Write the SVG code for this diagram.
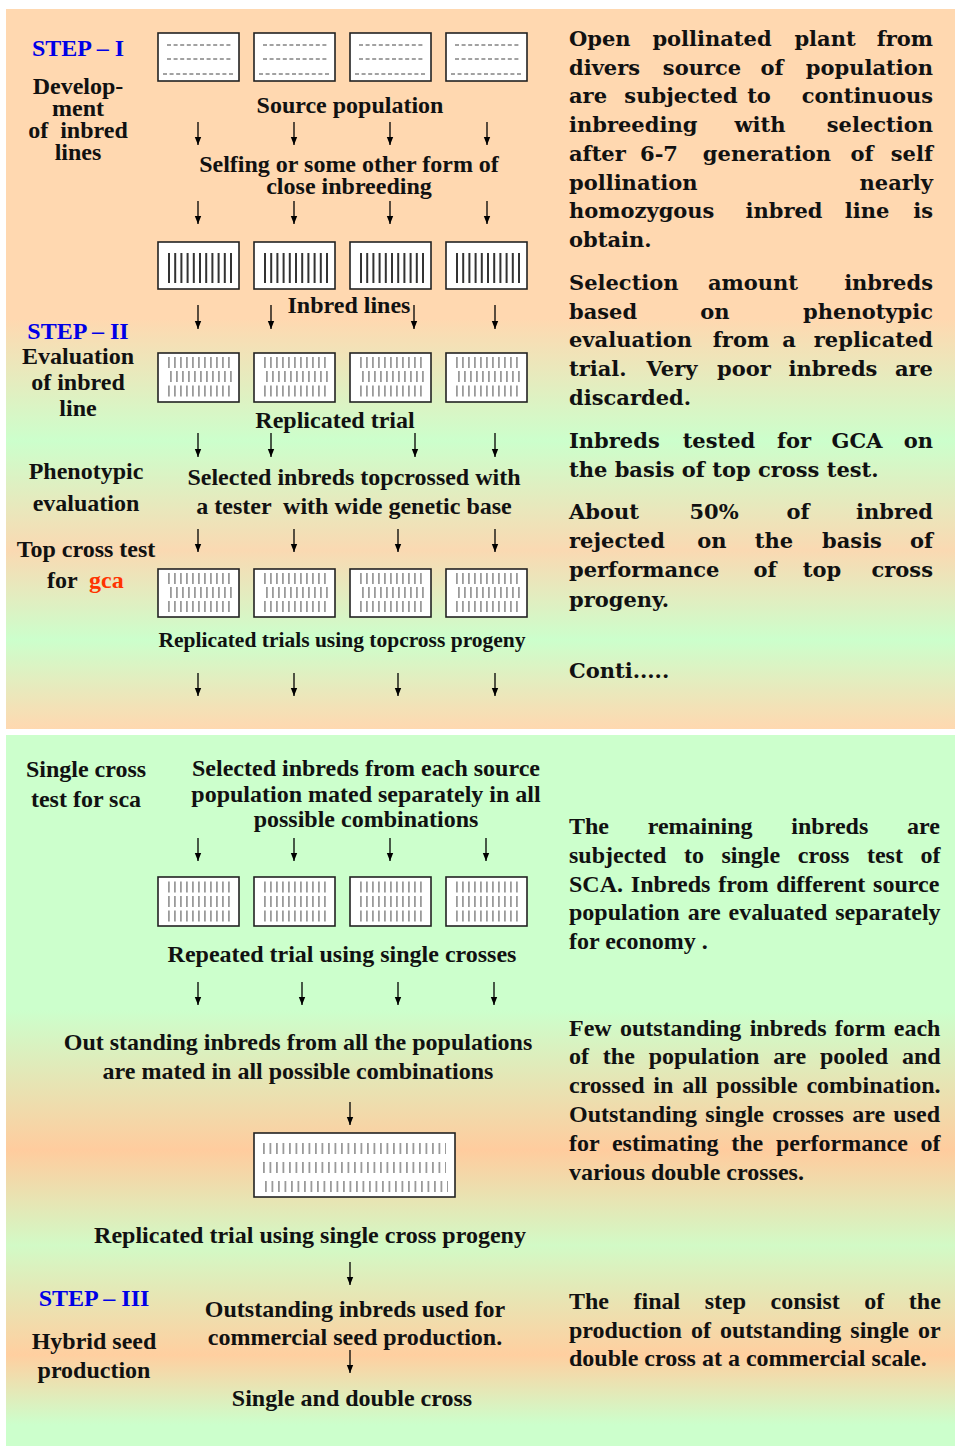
<svg xmlns="http://www.w3.org/2000/svg" width="955" height="1446" viewBox="0 0 955 1446">
<defs>
<linearGradient id="bgTop" gradientUnits="userSpaceOnUse" x1="0" y1="9" x2="0" y2="729">
<stop offset="0" stop-color="#FFD8B0"/>
<stop offset="0.43" stop-color="#FFD8B0"/>
<stop offset="0.6" stop-color="#CCFFCC"/>
<stop offset="0.752" stop-color="#FAD9B2"/>
<stop offset="0.876" stop-color="#CCFFCC"/>
<stop offset="1" stop-color="#FFD8B0"/>
</linearGradient>
<linearGradient id="bgBot" gradientUnits="userSpaceOnUse" x1="0" y1="735" x2="0" y2="1446">
<stop offset="0" stop-color="#CCFFCC"/>
<stop offset="0.387" stop-color="#CCFFCC"/>
<stop offset="0.584" stop-color="#FFCC9E"/>
<stop offset="0.718" stop-color="#D2FAC6"/>
<stop offset="0.872" stop-color="#FFCFA0"/>
<stop offset="0.97" stop-color="#CCFFCC"/>
<stop offset="1" stop-color="#CCFFCC"/>
</linearGradient>
<marker id="ah" viewBox="0 0 8 8" refX="8" refY="4" markerWidth="8" markerHeight="8" markerUnits="userSpaceOnUse" orient="auto">
<path d="M0,0.8 L8,4 L0,7.2 Z" fill="#000"/>
</marker>
<style>
.lbl{font-family:"Liberation Serif","Times New Roman",serif;font-weight:bold;font-size:24px;fill:#111;text-anchor:middle}
.step{fill:#0000E6}
.red{fill:#FF3300}
.st{text-anchor:start}
.para{font-family:"DejaVu Serif","Liberation Serif",serif;font-weight:bold;font-size:21px;fill:#111}
.pb{font-family:"Liberation Serif","Times New Roman",serif;font-weight:bold;font-size:24px;fill:#111}
.e{text-anchor:end}
.m{text-anchor:middle}
.box{fill:#fff;stroke:#222;stroke-width:1.6}
.dash{stroke:#444;stroke-width:1;stroke-dasharray:4 2.6;fill:none}
.solid{stroke:#333;stroke-width:30;stroke-dasharray:2 4.2;fill:none}
.bars{stroke:#9a9a9a;stroke-width:11;stroke-dasharray:1.8 4.2;fill:none}
.wbars{stroke:#9a9a9a;stroke-width:11;stroke-dasharray:1.8 4.7;fill:none}
.arr{stroke:#000;stroke-width:1.3;fill:none;marker-end:url(#ah)}
</style>
</defs>

<rect id="panel-top" x="6" y="9" width="949" height="720" fill="url(#bgTop)"/>
<rect id="panel-bottom" x="6" y="735" width="949" height="711" fill="url(#bgBot)"/>

<!-- STEP I labels -->
<g id="step1-label">
<text class="lbl step" x="78" y="56">STEP – I</text>
<text class="lbl" x="78" y="94">Develop-</text>
<text class="lbl" x="78" y="116">ment</text>
<text class="lbl" x="78" y="138" xml:space="preserve">of  inbred</text>
<text class="lbl" x="78" y="160">lines</text>
</g>

<g id="source-population">
<rect class="box" x="158" y="33" width="81" height="48"/>
<rect class="box" x="254" y="33" width="81" height="48"/>
<rect class="box" x="350" y="33" width="81" height="48"/>
<rect class="box" x="446" y="33" width="81" height="48"/>
<line class="dash" x1="167" x2="233" y1="45" y2="45"/><line class="dash" x1="167" x2="233" y1="59" y2="59"/><line class="dash" x1="163" x2="235" y1="74" y2="74"/>
<line class="dash" x1="263" x2="329" y1="45" y2="45"/><line class="dash" x1="263" x2="329" y1="59" y2="59"/><line class="dash" x1="259" x2="331" y1="74" y2="74"/>
<line class="dash" x1="359" x2="425" y1="45" y2="45"/><line class="dash" x1="359" x2="425" y1="59" y2="59"/><line class="dash" x1="355" x2="427" y1="74" y2="74"/>
<line class="dash" x1="455" x2="521" y1="45" y2="45"/><line class="dash" x1="455" x2="521" y1="59" y2="59"/><line class="dash" x1="451" x2="523" y1="74" y2="74"/>
<text class="lbl" x="350" y="113">Source population</text>
</g>

<g id="selfing">
<text class="lbl" x="349" y="172">Selfing or some other form of</text>
<text class="lbl" x="349" y="194">close inbreeding</text>
</g>

<g id="inbred-lines">
<rect class="box" x="158" y="242" width="81" height="47"/>
<rect class="box" x="254" y="242" width="81" height="47"/>
<rect class="box" x="350" y="242" width="81" height="47"/>
<rect class="box" x="446" y="242" width="81" height="47"/>
<line class="solid" x1="168" x2="233" y1="268" y2="268"/>
<line class="solid" x1="264" x2="329" y1="268" y2="268"/>
<line class="solid" x1="360" x2="425" y1="268" y2="268"/>
<line class="solid" x1="456" x2="521" y1="268" y2="268"/>
<text class="lbl" x="349" y="313">Inbred lines</text>
</g>

<g id="step2-label">
<text class="lbl step" x="78" y="339">STEP – II</text>
<text class="lbl" x="78" y="364">Evaluation</text>
<text class="lbl" x="78" y="390">of inbred</text>
<text class="lbl" x="78" y="416">line</text>
</g>

<g id="replicated-trial">
<rect class="box" x="158" y="353" width="81" height="49"/>
<rect class="box" x="254" y="353" width="81" height="49"/>
<rect class="box" x="350" y="353" width="81" height="49"/>
<rect class="box" x="446" y="353" width="81" height="49"/>
<line class="bars" x1="168" x2="231" y1="362.5" y2="362.5"/><line class="bars" x1="170" x2="233" y1="376.5" y2="376.5"/><line class="bars" x1="168" x2="233" y1="391" y2="391"/>
<line class="bars" x1="264" x2="327" y1="362.5" y2="362.5"/><line class="bars" x1="266" x2="329" y1="376.5" y2="376.5"/><line class="bars" x1="264" x2="329" y1="391" y2="391"/>
<line class="bars" x1="360" x2="423" y1="362.5" y2="362.5"/><line class="bars" x1="362" x2="425" y1="376.5" y2="376.5"/><line class="bars" x1="360" x2="425" y1="391" y2="391"/>
<line class="bars" x1="456" x2="519" y1="362.5" y2="362.5"/><line class="bars" x1="458" x2="521" y1="376.5" y2="376.5"/><line class="bars" x1="456" x2="521" y1="391" y2="391"/>
<text class="lbl" x="335" y="428">Replicated trial</text>
</g>

<g id="phenotypic-label">
<text class="lbl" x="86" y="479">Phenotypic</text>
<text class="lbl" x="86" y="511">evaluation</text>
</g>

<g id="topcrossed">
<text class="lbl" x="354" y="485">Selected inbreds topcrossed with</text>
<text class="lbl" x="354" y="514" xml:space="preserve">a tester  with wide genetic base</text>
</g>

<g id="topcross-label">
<text class="lbl" x="86" y="557">Top cross test</text>
<text class="lbl st" x="47" y="588">for</text>
<text class="lbl st red" x="89" y="588">gca</text>
</g>

<g id="topcross-trials">
<rect class="box" x="158" y="569" width="81" height="48"/>
<rect class="box" x="254" y="569" width="81" height="48"/>
<rect class="box" x="350" y="569" width="81" height="48"/>
<rect class="box" x="446" y="569" width="81" height="48"/>
<line class="bars" x1="168" x2="231" y1="578.5" y2="578.5"/><line class="bars" x1="170" x2="233" y1="592.5" y2="592.5"/><line class="bars" x1="168" x2="233" y1="606.5" y2="606.5"/>
<line class="bars" x1="264" x2="327" y1="578.5" y2="578.5"/><line class="bars" x1="266" x2="329" y1="592.5" y2="592.5"/><line class="bars" x1="264" x2="329" y1="606.5" y2="606.5"/>
<line class="bars" x1="360" x2="423" y1="578.5" y2="578.5"/><line class="bars" x1="362" x2="425" y1="592.5" y2="592.5"/><line class="bars" x1="360" x2="425" y1="606.5" y2="606.5"/>
<line class="bars" x1="456" x2="519" y1="578.5" y2="578.5"/><line class="bars" x1="458" x2="521" y1="592.5" y2="592.5"/><line class="bars" x1="456" x2="521" y1="606.5" y2="606.5"/>
<text class="lbl" x="342" y="647" style="font-size:21.5px">Replicated trials using topcross progeny</text>
</g>

<!-- right column, top panel -->
<g id="note-inbreeding" class="para">
<text x="569" y="46">Open</text><text class="m" x="712" y="46">pollinated</text><text class="m" x="825" y="46">plant</text><text class="e" x="933" y="46">from</text>
<text x="569" y="75">divers</text><text class="m" x="702" y="75">source</text><text class="m" x="772" y="75">of</text><text class="e" x="933" y="75">population</text>
<text x="569" y="103">are</text><text class="m" x="681" y="103">subjected</text><text class="m" x="759" y="103">to</text><text class="e" x="933" y="103">continuous</text>
<text x="569" y="132">inbreeding</text><text class="m" x="760" y="132">with</text><text class="e" x="933" y="132">selection</text>
<text x="569" y="161">after</text><text class="m" x="659" y="161">6-7</text><text class="m" x="767" y="161">generation</text><text class="m" x="862" y="161">of</text><text class="e" x="933" y="161">self</text>
<text x="569" y="190">pollination</text><text class="e" x="933" y="190">nearly</text>
<text x="569" y="218">homozygous</text><text class="m" x="784" y="218">inbred</text><text class="m" x="867" y="218">line</text><text class="e" x="933" y="218">is</text>
<text x="569" y="247">obtain.</text>
</g>

<g id="note-selection" class="para">
<text x="569" y="290">Selection</text><text class="m" x="753" y="290">amount</text><text class="e" x="933" y="290">inbreds</text>
<text x="569" y="319">based</text><text class="m" x="715" y="319">on</text><text class="e" x="933" y="319">phenotypic</text>
<text x="569" y="347">evaluation</text><text class="m" x="741" y="347">from</text><text class="m" x="789" y="347">a</text><text class="e" x="933" y="347">replicated</text>
<text x="569" y="376">trial.</text><text class="m" x="672" y="376">Very</text><text class="m" x="744" y="376">poor</text><text class="m" x="833" y="376">inbreds</text><text class="e" x="933" y="376">are</text>
<text x="569" y="405">discarded.</text>
</g>

<g id="note-gca" class="para">
<text x="569" y="448">Inbreds</text><text class="m" x="719" y="448">tested</text><text class="m" x="794" y="448">for</text><text class="m" x="857" y="448">GCA</text><text class="e" x="933" y="448">on</text>
<text x="569" y="477">the basis of top cross test.</text>
</g>

<g id="note-rejected" class="para">
<text x="569" y="519">About</text><text class="m" x="714" y="519">50%</text><text class="m" x="798" y="519">of</text><text class="e" x="933" y="519">inbred</text>
<text x="569" y="548">rejected</text><text class="m" x="712" y="548">on</text><text class="m" x="774" y="548">the</text><text class="m" x="852" y="548">basis</text><text class="e" x="933" y="548">of</text>
<text x="569" y="577">performance</text><text class="m" x="765" y="577">of</text><text class="m" x="822" y="577">top</text><text class="e" x="933" y="577">cross</text>
<text x="569" y="607">progeny.</text>
</g>

<g id="note-conti" class="para">
<text x="569" y="678">Conti.....</text>
</g>

<!-- bottom panel -->
<g id="sca-label">
<text class="lbl" x="86" y="777">Single cross</text>
<text class="lbl" x="86" y="807">test for sca</text>
</g>

<g id="mated-separately">
<text class="lbl" x="366" y="776">Selected inbreds from each source</text>
<text class="lbl" x="366" y="802">population mated separately in all</text>
<text class="lbl" x="366" y="827">possible combinations</text>
</g>

<g id="single-cross-trials">
<rect class="box" x="158" y="877" width="81" height="49"/>
<rect class="box" x="254" y="877" width="81" height="49"/>
<rect class="box" x="350" y="877" width="81" height="49"/>
<rect class="box" x="446" y="877" width="81" height="49"/>
<line class="bars" x1="168" x2="231" y1="887" y2="887"/><line class="bars" x1="168" x2="231" y1="901.5" y2="901.5"/><line class="bars" x1="168" x2="233" y1="916" y2="916"/>
<line class="bars" x1="264" x2="327" y1="887" y2="887"/><line class="bars" x1="264" x2="327" y1="901.5" y2="901.5"/><line class="bars" x1="264" x2="329" y1="916" y2="916"/>
<line class="bars" x1="360" x2="423" y1="887" y2="887"/><line class="bars" x1="360" x2="423" y1="901.5" y2="901.5"/><line class="bars" x1="360" x2="425" y1="916" y2="916"/>
<line class="bars" x1="456" x2="519" y1="887" y2="887"/><line class="bars" x1="456" x2="519" y1="901.5" y2="901.5"/><line class="bars" x1="456" x2="521" y1="916" y2="916"/>
<text class="lbl" x="342" y="962">Repeated trial using single crosses</text>
</g>

<g id="outstanding-pooled">
<text class="lbl" x="298" y="1050">Out standing inbreds from all the populations</text>
<text class="lbl" x="298" y="1079">are mated in all possible combinations</text>
</g>

<g id="single-cross-progeny">
<rect class="box" x="254" y="1133" width="201" height="64"/>
<line class="wbars" x1="263" x2="446" y1="1148.5" y2="1148.5"/>
<line class="wbars" x1="263" x2="446" y1="1167.5" y2="1167.5"/>
<line class="wbars" x1="265" x2="448" y1="1186.5" y2="1186.5"/>
<text class="lbl" x="310" y="1243">Replicated trial using single cross progeny</text>
</g>

<g id="step3-label">
<text class="lbl step" x="94" y="1306">STEP – III</text>
<text class="lbl" x="94" y="1349">Hybrid seed</text>
<text class="lbl" x="94" y="1378">production</text>
</g>

<g id="commercial">
<text class="lbl" x="355" y="1317">Outstanding inbreds used for</text>
<text class="lbl" x="355" y="1345">commercial seed production.</text>
</g>

<g id="final-cross">
<text class="lbl" x="352" y="1406">Single and double cross</text>
</g>

<g id="note-sca" class="pb">
<text x="569" y="834" word-spacing="32.7">The remaining inbreds are</text>
<text x="569" y="863" word-spacing="11.6">subjected to single cross test of</text>
<text x="569" y="892" word-spacing="1.85">SCA. Inbreds from different source</text>
<text x="569" y="920" word-spacing="2">population are evaluated separately</text>
<text x="569" y="949">for economy .</text>
</g>

<g id="note-double" class="pb">
<text x="569" y="1036" word-spacing="2.3">Few outstanding inbreds form each</text>
<text x="569" y="1064" word-spacing="7.86">of the population are pooled and</text>
<text x="569" y="1093" word-spacing="2.8">crossed in all possible combination.</text>
<text x="569" y="1122" word-spacing="2.3">Outstanding single crosses are used</text>
<text x="569" y="1151" word-spacing="6.7">for estimating the performance of</text>
<text x="569" y="1180">various double crosses.</text>
</g>

<g id="note-final" class="pb">
<text x="569" y="1309" word-spacing="18.5">The final step consist of the</text>
<text x="569" y="1338" word-spacing="3">production of outstanding single or</text>
<text x="569" y="1366">double cross at a commercial scale.</text>
</g>

<g id="connectors">
<line class="arr" x1="198" y1="122" x2="198" y2="145"/><line class="arr" x1="294" y1="122" x2="294" y2="145"/><line class="arr" x1="390" y1="122" x2="390" y2="145"/><line class="arr" x1="487" y1="122" x2="487" y2="145"/>
<line class="arr" x1="198" y1="201" x2="198" y2="224"/><line class="arr" x1="294" y1="201" x2="294" y2="224"/><line class="arr" x1="390" y1="201" x2="390" y2="224"/><line class="arr" x1="487" y1="201" x2="487" y2="224"/>
<line class="arr" x1="198" y1="305" x2="198" y2="329"/><line class="arr" x1="271" y1="305" x2="271" y2="329"/><line class="arr" x1="414" y1="305" x2="414" y2="329"/><line class="arr" x1="495" y1="305" x2="495" y2="329"/>
<line class="arr" x1="198" y1="433" x2="198" y2="457"/><line class="arr" x1="271" y1="433" x2="271" y2="457"/><line class="arr" x1="415" y1="433" x2="415" y2="457"/><line class="arr" x1="495" y1="433" x2="495" y2="457"/>
<line class="arr" x1="198" y1="529" x2="198" y2="552"/><line class="arr" x1="294" y1="529" x2="294" y2="552"/><line class="arr" x1="398" y1="529" x2="398" y2="552"/><line class="arr" x1="495" y1="529" x2="495" y2="552"/>
<line class="arr" x1="198" y1="673" x2="198" y2="696"/><line class="arr" x1="294" y1="673" x2="294" y2="696"/><line class="arr" x1="398" y1="673" x2="398" y2="696"/><line class="arr" x1="495" y1="673" x2="495" y2="696"/>
<line class="arr" x1="198" y1="838" x2="198" y2="861"/><line class="arr" x1="294" y1="838" x2="294" y2="861"/><line class="arr" x1="390" y1="838" x2="390" y2="861"/><line class="arr" x1="486" y1="838" x2="486" y2="861"/>
<line class="arr" x1="198" y1="982" x2="198" y2="1005"/><line class="arr" x1="302" y1="982" x2="302" y2="1005"/><line class="arr" x1="398" y1="982" x2="398" y2="1005"/><line class="arr" x1="494" y1="982" x2="494" y2="1005"/>
<line class="arr" x1="350" y1="1102" x2="350" y2="1125"/>
<line class="arr" x1="350" y1="1262" x2="350" y2="1285"/>
<line class="arr" x1="350" y1="1350" x2="350" y2="1373"/>
</g>
</svg>
